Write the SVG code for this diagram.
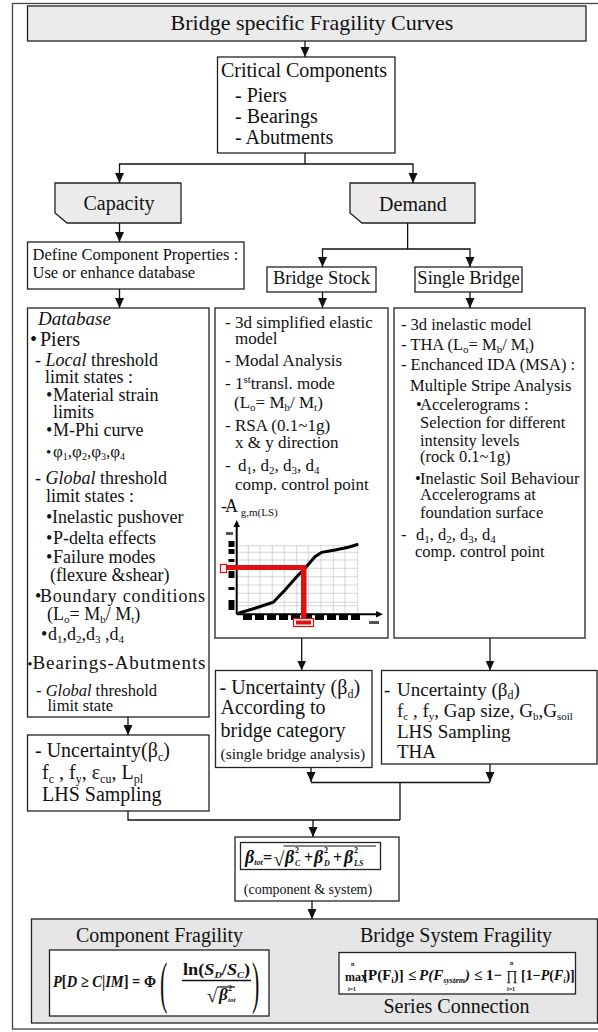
<svg xmlns="http://www.w3.org/2000/svg" width="598" height="1032" viewBox="0 0 598 1032">
<defs>
<style>
text{font-family:"Liberation Serif","Times New Roman",serif;fill:#111}
.box{fill:#fff;stroke:#222;stroke-width:1.3}
.gray{fill:#ebebeb;stroke:#222;stroke-width:1.3}
.con{fill:none;stroke:#111;stroke-width:1.3}
.grid{stroke:#c4c4c4;stroke-width:0.7}
.it{font-style:italic}
.bi{font-weight:bold;font-style:italic}
.b{font-weight:bold}
</style>
<marker id="arr" markerUnits="userSpaceOnUse" markerWidth="10" markerHeight="10" refX="10" refY="4.5" orient="auto"><path d="M0,0 L10,4.5 L0,9 Z" fill="#111"/></marker>
</defs>
<rect x="0" y="0" width="598" height="1032" fill="#fff"/>
<rect x="12.5" y="3.5" width="600" height="1025.5" fill="none" stroke="#444" stroke-width="1.3"/>

<g id="title">
<rect class="gray" x="27.5" y="6" width="558.5" height="35"/>
<text x="312" y="30" font-size="22" text-anchor="middle">Bridge specific Fragility Curves</text>
</g>

<g id="critical">
<rect class="box" x="217.5" y="57" width="177.5" height="96"/>
<text x="221" y="77" font-size="20">Critical Components</text>
<text x="235" y="102" font-size="20">- Piers</text>
<text x="235" y="123" font-size="20">- Bearings</text>
<text x="235" y="144" font-size="20">- Abutments</text>
</g>

<g id="capacity">
<path class="gray" d="M55,183 H181 V223 H67 L55,213 Z"/>
<text x="119" y="210" font-size="20" text-anchor="middle">Capacity</text>
</g>

<g id="demand">
<path class="gray" d="M350,183 H475 V223 H362 L350,213 Z"/>
<text x="413" y="211" font-size="20" text-anchor="middle">Demand</text>
</g>

<g id="define">
<rect class="box" x="27.5" y="242" width="216.5" height="47"/>
<text x="32.5" y="260" font-size="16.5">Define Component Properties :</text>
<text x="32.5" y="278" font-size="16.5">Use or enhance database</text>
</g>

<g id="bridge-stock">
<rect class="box" x="267" y="267" width="109" height="25"/>
<text x="321.5" y="284" font-size="18.5" text-anchor="middle">Bridge Stock</text>
</g>

<g id="single-bridge">
<rect class="box" x="415" y="267" width="107" height="25"/>
<text x="468.5" y="284" font-size="18.5" text-anchor="middle">Single Bridge</text>
</g>

<g id="database">
<rect class="box" x="27.5" y="308" width="181.5" height="409"/>
<text x="38" y="325" font-size="19" class="it">Database</text>
<text x="30" y="346" font-size="20">•<tspan x="40">Piers</tspan></text>
<text x="35" y="366" font-size="18">- <tspan class="it">Local</tspan> threshold</text>
<text x="45" y="383" font-size="18">limit states :</text>
<text x="46" y="401" font-size="18">•<tspan x="53">Material strain</tspan></text>
<text x="53" y="418" font-size="18">limits</text>
<text x="46" y="436" font-size="18">•<tspan x="53">M-Phi curve</tspan></text>
<text x="46" y="457" font-size="15">•<tspan x="53" font-size="17">φ</tspan><tspan font-size="10" dy="3">1</tspan><tspan dy="-3" font-size="17">,φ</tspan><tspan font-size="10" dy="3">2</tspan><tspan dy="-3" font-size="17">,φ</tspan><tspan font-size="10" dy="3">3</tspan><tspan dy="-3" font-size="17">,φ</tspan><tspan font-size="10" dy="3">4</tspan></text>
<text x="35" y="484" font-size="18">- <tspan class="it">Global</tspan> threshold</text>
<text x="46" y="502" font-size="18">limit states :</text>
<text x="46" y="523" font-size="18">•<tspan x="52">Inelastic pushover</tspan></text>
<text x="46" y="544" font-size="18">•<tspan x="53">P-delta effects</tspan></text>
<text x="46" y="563" font-size="18">•<tspan x="53">Failure modes</tspan></text>
<text x="50" y="581" font-size="18">(flexure &amp;shear)</text>
<text x="35" y="602" font-size="18">•<tspan x="40" textLength="165" lengthAdjust="spacing">Boundary conditions</tspan></text>
<text x="47" y="620" font-size="18">(L<tspan font-size="11" dy="3">o</tspan><tspan dy="-3">= M</tspan><tspan font-size="11" dy="3">b</tspan><tspan dy="-3">/ M</tspan><tspan font-size="11" dy="3">t</tspan><tspan dy="-3">)</tspan></text>
<text x="41" y="640" font-size="18">•<tspan x="48">d</tspan><tspan font-size="11" dy="3">1</tspan><tspan dy="-3">,d</tspan><tspan font-size="11" dy="3">2</tspan><tspan dy="-3">,d</tspan><tspan font-size="11" dy="3">3</tspan><tspan dy="-3"> ,d</tspan><tspan font-size="11" dy="3">4</tspan></text>
<text x="27.5" y="669" font-size="14">•</text>
<text x="32.5" y="669" font-size="19" textLength="173" lengthAdjust="spacing">Bearings-Abutments</text>
<text x="36" y="696" font-size="16.5">- <tspan class="it">Global</tspan> threshold</text>
<text x="47.5" y="711" font-size="16.5">limit state</text>
</g>

<g id="bridge-stock-analysis">
<rect class="box" x="215" y="308" width="173" height="330"/>
<text x="225" y="328" font-size="17">- 3d simplified elastic</text>
<text x="235" y="344" font-size="17">model</text>
<text x="225" y="366" font-size="17">- Modal Analysis</text>
<text x="225" y="389" font-size="17">- 1<tspan font-size="11" dy="-6">st</tspan><tspan dy="6">transl. mode</tspan></text>
<text x="234" y="408" font-size="17">(L<tspan font-size="11" dy="3">o</tspan><tspan dy="-3">= M</tspan><tspan font-size="11" dy="3">b</tspan><tspan dy="-3">/ M</tspan><tspan font-size="11" dy="3">t</tspan><tspan dy="-3">)</tspan></text>
<text x="225" y="431" font-size="17">- RSA (0.1~1g)</text>
<text x="235" y="448" font-size="17">x &amp; y direction</text>
<text x="225" y="471" font-size="17">- <tspan x="238">d</tspan><tspan font-size="11" dy="3">1</tspan><tspan dy="-3">, d</tspan><tspan font-size="11" dy="3">2</tspan><tspan dy="-3">, d</tspan><tspan font-size="11" dy="3">3</tspan><tspan dy="-3">, d</tspan><tspan font-size="11" dy="3">4</tspan></text>
<text x="235" y="490" font-size="17">comp. control point</text>
<text x="221" y="512" font-size="18">-<tspan x="225">A</tspan><tspan font-size="11" dy="4"> g,m(LS)</tspan></text>
<g id="chart">
<g class="grid">
<path d="M237,545.7 H358 M237,552.3 H358 M237,560 H358 M237,568.3 H358 M237,576.7 H358 M237,585 H358 M237,593.3 H358 M237,602.3 H358 M237,605.7 H358"/>
<path d="M248.3,545 V614 M260,545 V614 M272.3,545 V614 M284.3,545 V614 M296.7,545 V614 M308.3,545 V614 M321,545 V614 M333.3,545 V614 M345,545 V614 M357.7,545 V614"/>
</g>
<path d="M236.7,614.3 V525 M236.7,614.3 H377" stroke="#000" stroke-width="2" fill="none"/>
<path d="M233.5,527 L236.7,520 L239.9,527 Z M376,611 L383,614.3 L376,617.6 Z" fill="#000"/>
<rect x="228.5" y="541" width="6" height="6" fill="#000"/>
<rect x="228.5" y="549" width="6" height="5" fill="#000"/>
<rect x="228.5" y="559" width="6" height="3" fill="#000"/>
<rect x="228.5" y="571" width="6" height="7" fill="#000"/>
<rect x="228.5" y="587" width="6" height="3" fill="#000"/>
<rect x="228.5" y="600" width="6" height="10" fill="#000"/>
<rect x="226" y="532" width="7" height="3" fill="#555"/>
<path d="M243,617.5 H362" stroke="#000" stroke-width="5" stroke-dasharray="9 3"/>
<rect x="369" y="621" width="10" height="3" fill="#555"/>
<polyline points="238.3,613.3 255,608.3 273.3,602.3 285,590 296.7,576.7 305,568.3 315,556.7 321.7,552.3 335,550 348.3,547.3 358.3,544.3" fill="none" stroke="#000" stroke-width="3"/>
<rect x="222" y="565" width="83" height="5" fill="#e01010"/>
<rect x="301" y="566" width="5.5" height="52" fill="#e01010"/>
<rect x="220.5" y="564.5" width="6" height="8" fill="#fff" stroke="#e01010" stroke-width="1.2"/>
<rect x="293.5" y="618.5" width="20" height="8" fill="#fff" stroke="#e01010" stroke-width="1.2"/>
<rect x="296" y="620.5" width="15" height="4" fill="#e01010"/>
</g>
</g>

<g id="single-bridge-analysis">
<rect class="box" x="394" y="308" width="191" height="330"/>
<text x="401" y="330" font-size="16.5">- 3d inelastic model</text>
<text x="401" y="350" font-size="16.5">- THA (L<tspan font-size="11" dy="3">o</tspan><tspan dy="-3">= M</tspan><tspan font-size="11" dy="3">b</tspan><tspan dy="-3">/ M</tspan><tspan font-size="11" dy="3">t</tspan><tspan dy="-3">)</tspan></text>
<text x="401" y="370" font-size="16.5">- Enchanced IDA (MSA) :</text>
<text x="410" y="391" font-size="16.5">Multiple Stripe Analysis</text>
<text x="416" y="410" font-size="16.5">•<tspan x="420">Accelerograms :</tspan></text>
<text x="420" y="428" font-size="16.5">Selection for different</text>
<text x="420" y="446" font-size="16.5">intensity levels</text>
<text x="420" y="462" font-size="16.5">(rock 0.1~1g)</text>
<text x="415" y="484" font-size="16.5">•<tspan x="420">Inelastic Soil Behaviour</tspan></text>
<text x="420" y="500" font-size="16.5">Accelerograms at</text>
<text x="420" y="518" font-size="16.5">foundation surface</text>
<text x="401" y="540" font-size="16.5">-<tspan x="416">d</tspan><tspan font-size="11" dy="3">1</tspan><tspan dy="-3">, d</tspan><tspan font-size="11" dy="3">2</tspan><tspan dy="-3">, d</tspan><tspan font-size="11" dy="3">3</tspan><tspan dy="-3">, d</tspan><tspan font-size="11" dy="3">4</tspan></text>
<text x="415" y="557" font-size="16.5">comp. control point</text>
</g>

<g id="uncertainty-capacity">
<rect class="box" x="27.5" y="735" width="181.5" height="76"/>
<text x="35" y="757" font-size="20">- Uncertainty(β<tspan font-size="12" dy="4">c</tspan><tspan dy="-4">)</tspan></text>
<text x="42" y="779" font-size="20">f<tspan font-size="12" dy="4">c</tspan><tspan dy="-4"> , f</tspan><tspan font-size="12" dy="4">y</tspan><tspan dy="-4">, ε</tspan><tspan font-size="12" dy="4">cu</tspan><tspan dy="-4">, L</tspan><tspan font-size="12" dy="4">pl</tspan></text>
<text x="42" y="801" font-size="20">LHS Sampling</text>
</g>

<g id="uncertainty-stock">
<rect class="box" x="215.5" y="670.5" width="156.5" height="97"/>
<text x="219.5" y="694" font-size="20">- Uncertainty (β<tspan font-size="12" dy="4">d</tspan><tspan dy="-4">)</tspan></text>
<text x="220.5" y="714" font-size="20">According to</text>
<text x="220.5" y="737" font-size="20">bridge category</text>
<text x="220.5" y="759" font-size="15.5">(single bridge analysis)</text>
</g>

<g id="uncertainty-single">
<rect class="box" x="381.5" y="670.5" width="215.5" height="93.5"/>
<text x="384" y="696" font-size="19">-<tspan x="397">Uncertainty (β</tspan><tspan font-size="12" dy="3">d</tspan><tspan dy="-3">)</tspan></text>
<text x="397" y="717" font-size="19">f<tspan font-size="11" dy="3">c</tspan><tspan dy="-3"> , f</tspan><tspan font-size="11" dy="3">y</tspan><tspan dy="-3">, Gap size, G</tspan><tspan font-size="11" dy="3">b</tspan><tspan dy="-3">,G</tspan><tspan font-size="11" dy="3">soil</tspan></text>
<text x="397" y="738" font-size="19">LHS Sampling</text>
<text x="397" y="758" font-size="19">THA</text>
</g>

<g id="beta-total">
<rect class="box" x="235" y="837" width="164" height="64"/>
<rect class="box" x="240.5" y="842.5" width="140" height="27"/>
<text x="245" y="863" font-size="18" class="bi">β<tspan font-size="8" dy="2">tot</tspan></text>
<text x="263" y="863" font-size="16" class="b">=</text>
<text x="273.5" y="866" font-size="20">√</text>
<path d="M283.5,846 H376" stroke="#111" stroke-width="1.2"/>
<text x="285" y="863" font-size="18" class="bi">β</text>
<text x="295" y="853" font-size="8" class="b">2</text>
<text x="295" y="866" font-size="8" class="bi">C</text>
<text x="304" y="863" font-size="16" class="b">+</text>
<text x="314" y="863" font-size="18" class="bi">β</text>
<text x="324" y="853" font-size="8" class="b">2</text>
<text x="324" y="866" font-size="8" class="bi">D</text>
<text x="333" y="863" font-size="16" class="b">+</text>
<text x="344" y="863" font-size="18" class="bi">β</text>
<text x="354" y="853" font-size="8" class="b">2</text>
<text x="354" y="866" font-size="8" class="bi">LS</text>
<text x="308" y="894" font-size="14" text-anchor="middle">(component &amp; system)</text>
</g>

<g id="fragility">
<rect x="31.5" y="919" width="566" height="104" fill="#e6e6e6" stroke="#222" stroke-width="1.3"/>
<text x="159.5" y="942" font-size="20" text-anchor="middle">Component Fragility</text>
<text x="456" y="942" font-size="20" text-anchor="middle">Bridge System Fragility</text>
<rect class="box" x="49.5" y="950" width="219.5" height="66"/>
<text x="53" y="987" font-size="17" class="b" textLength="103" lengthAdjust="spacingAndGlyphs"><tspan class="bi">P</tspan>[<tspan class="bi">D</tspan> ≥ <tspan class="bi">C</tspan>|<tspan class="bi">IM</tspan>] = Φ</text>
<text transform="translate(160,1002) scale(1,2.6)" font-size="22">(</text>
<text x="183" y="975" font-size="16" class="b" textLength="67" lengthAdjust="spacingAndGlyphs">ln(<tspan class="bi">S</tspan><tspan font-size="9" dy="3" class="bi">D</tspan><tspan dy="-3">/</tspan><tspan class="bi">S</tspan><tspan font-size="9" dy="3" class="bi">C</tspan><tspan dy="-3">)</tspan></text>
<path d="M182,980.5 H251" stroke="#111" stroke-width="1.3"/>
<text x="207" y="1002" font-size="19">√</text>
<path d="M217,987 H235" stroke="#111" stroke-width="1.2"/>
<text x="219" y="1000" font-size="17" class="bi">β</text>
<text x="228" y="991" font-size="8" class="b">2</text>
<text x="228" y="1002" font-size="7" class="bi">tot</text>
<text transform="translate(252,1002) scale(1,2.6)" font-size="22">)</text>
<rect class="box" x="339" y="952.5" width="236.5" height="41.5"/>
<text x="345" y="981" font-size="12" class="b">max</text>
<text x="351" y="966" font-size="6" class="b">n</text>
<text x="348" y="991" font-size="6" class="b">i=1</text>
<text x="363" y="980" font-size="15" class="b">[P(F<tspan font-size="9" dy="3">i</tspan><tspan dy="-3">)]</tspan></text>
<text x="408" y="980" font-size="15" class="b">≤</text>
<text x="419" y="980" font-size="15" class="bi">P(F<tspan font-size="8" dy="3">system</tspan><tspan dy="-3">)</tspan></text>
<text x="474" y="980" font-size="15" class="b">≤ 1−</text>
<text x="506" y="980" font-size="14">∏</text>
<text x="510" y="965" font-size="6" class="b">n</text>
<text x="507" y="991" font-size="6" class="b">i=1</text>
<text x="521" y="980" font-size="14" class="b">[1−<tspan class="bi">P</tspan>(<tspan class="bi">F</tspan><tspan font-size="8" dy="3" class="bi">i</tspan><tspan dy="-3">)]</tspan></text>
<text x="456.5" y="1013" font-size="20" text-anchor="middle">Series Connection</text>
</g>

<g id="connectors" class="con">
<path d="M305,41 V57" marker-end="url(#arr)"/>
<path d="M305,153 V164 H119.5 V183" marker-end="url(#arr)"/>
<path d="M305,164 H413 V183" marker-end="url(#arr)"/>
<path d="M119.5,223 V242" marker-end="url(#arr)"/>
<path d="M119.5,289 V308" marker-end="url(#arr)"/>
<path d="M407.6,223 V249 H322.5 V267" marker-end="url(#arr)"/>
<path d="M407.6,249 H470 V267" marker-end="url(#arr)"/>
<path d="M322.5,292 V308" marker-end="url(#arr)"/>
<path d="M470,292 V308" marker-end="url(#arr)"/>
<path d="M128,717 V735" marker-end="url(#arr)"/>
<path d="M301.7,638 V670.5" marker-end="url(#arr)"/>
<path d="M490,638 V670.5" marker-end="url(#arr)"/>
<path d="M311,767.5 V782" marker-end="url(#arr)"/>
<path d="M490,764 V782" marker-end="url(#arr)"/>
<path d="M311,782.5 H490 M400,782.5 V820 M128,811 V820 H400"/>
<path d="M313,820 V837" marker-end="url(#arr)"/>
<path d="M312,901 V919" marker-end="url(#arr)"/>
</g>
</svg>
